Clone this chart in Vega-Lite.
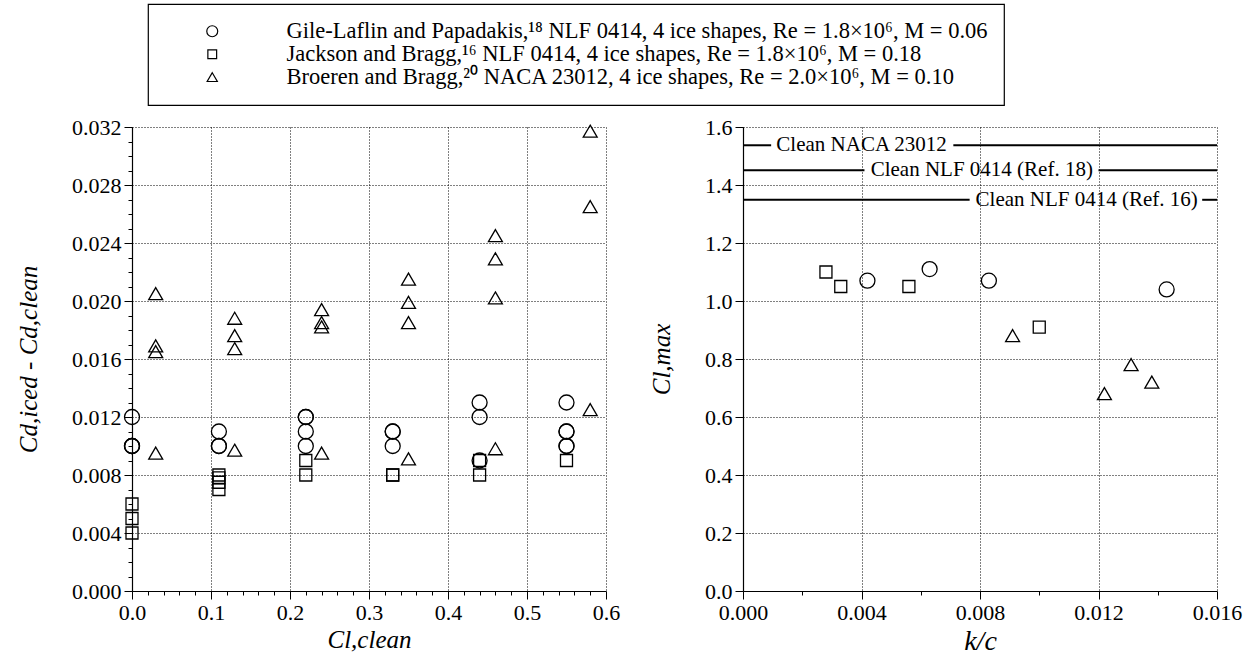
{
  "$schema": "https://vega.github.io/schema/vega-lite/v6.json",
  "padding": {"left": 16, "top": 3, "right": 5, "bottom": 2},
  "config": {
    "font": "Liberation Serif",
    "view": {"stroke": null},
    "concat": {"spacing": 29},
    "axis": {
      "labelFont": "Liberation Serif", "labelFontSize": 22, "labelColor": "black",
      "titleFont": "Liberation Serif", "titleFontStyle": "italic", "titleFontWeight": "normal",
      "titleFontSize": 25, "titleColor": "black",
      "domainColor": "black", "domainWidth": 1.2, "tickColor": "black", "tickWidth": 1,
      "gridColor": "black", "gridDash": [1, 2], "gridWidth": 1,
      "labelPadding": 3, "labelOverlap": false, "labelFlush": false
    },
    "legend": {
      "orient": "none", "legendX": 16, "legendY": -123,
      "strokeColor": "black", "strokeWidth": 1.2, "fillColor": "white",
      "padding": 16, "rowPadding": 0,
      "labelFont": "Liberation Serif", "labelFontSize": 22.5, "labelColor": "black", "labelLimit": 2000,
      "symbolSize": 120, "symbolStrokeWidth": 1.2, "symbolStrokeColor": "black",
      "symbolFillColor": "transparent", "symbolOffset": 37, "labelOffset": 63,
      "title": null
    }
  },
  "datasets": {
    "drag": [
      {"source": "G", "cl": 0, "dcd": 0.012}, {"source": "G", "cl": 0, "dcd": 0.010}, {"source": "G", "cl": 0, "dcd": 0.010}, {"source": "G", "cl": 0, "dcd": 0.010},
      {"source": "G", "cl": 0.11, "dcd": 0.011}, {"source": "G", "cl": 0.11, "dcd": 0.010}, {"source": "G", "cl": 0.11, "dcd": 0.010},
      {"source": "G", "cl": 0.22, "dcd": 0.012}, {"source": "G", "cl": 0.22, "dcd": 0.012}, {"source": "G", "cl": 0.22, "dcd": 0.011}, {"source": "G", "cl": 0.22, "dcd": 0.010},
      {"source": "G", "cl": 0.33, "dcd": 0.011}, {"source": "G", "cl": 0.33, "dcd": 0.011}, {"source": "G", "cl": 0.33, "dcd": 0.010},
      {"source": "G", "cl": 0.44, "dcd": 0.013}, {"source": "G", "cl": 0.44, "dcd": 0.012}, {"source": "G", "cl": 0.44, "dcd": 0.009},
      {"source": "G", "cl": 0.55, "dcd": 0.013}, {"source": "G", "cl": 0.55, "dcd": 0.011}, {"source": "G", "cl": 0.55, "dcd": 0.011}, {"source": "G", "cl": 0.55, "dcd": 0.010}, {"source": "G", "cl": 0.55, "dcd": 0.010},
      {"source": "J", "cl": 0, "dcd": 0.006}, {"source": "J", "cl": 0, "dcd": 0.005}, {"source": "J", "cl": 0, "dcd": 0.004},
      {"source": "J", "cl": 0.11, "dcd": 0.008}, {"source": "J", "cl": 0.11, "dcd": 0.0078}, {"source": "J", "cl": 0.11, "dcd": 0.0075}, {"source": "J", "cl": 0.11, "dcd": 0.007},
      {"source": "J", "cl": 0.22, "dcd": 0.009}, {"source": "J", "cl": 0.22, "dcd": 0.008},
      {"source": "J", "cl": 0.33, "dcd": 0.008}, {"source": "J", "cl": 0.33, "dcd": 0.008},
      {"source": "J", "cl": 0.44, "dcd": 0.009}, {"source": "J", "cl": 0.44, "dcd": 0.008},
      {"source": "J", "cl": 0.55, "dcd": 0.009},
      {"source": "B", "cl": 0.03, "dcd": 0.0205}, {"source": "B", "cl": 0.03, "dcd": 0.0169}, {"source": "B", "cl": 0.03, "dcd": 0.0165}, {"source": "B", "cl": 0.03, "dcd": 0.0095},
      {"source": "B", "cl": 0.13, "dcd": 0.0188}, {"source": "B", "cl": 0.13, "dcd": 0.0176}, {"source": "B", "cl": 0.13, "dcd": 0.0167}, {"source": "B", "cl": 0.13, "dcd": 0.0097},
      {"source": "B", "cl": 0.24, "dcd": 0.0194}, {"source": "B", "cl": 0.24, "dcd": 0.0185}, {"source": "B", "cl": 0.24, "dcd": 0.0182}, {"source": "B", "cl": 0.24, "dcd": 0.0095},
      {"source": "B", "cl": 0.35, "dcd": 0.0215}, {"source": "B", "cl": 0.35, "dcd": 0.0199}, {"source": "B", "cl": 0.35, "dcd": 0.0185}, {"source": "B", "cl": 0.35, "dcd": 0.0091},
      {"source": "B", "cl": 0.46, "dcd": 0.0245}, {"source": "B", "cl": 0.46, "dcd": 0.0229}, {"source": "B", "cl": 0.46, "dcd": 0.0202}, {"source": "B", "cl": 0.46, "dcd": 0.0098},
      {"source": "B", "cl": 0.58, "dcd": 0.0317}, {"source": "B", "cl": 0.58, "dcd": 0.0265}, {"source": "B", "cl": 0.58, "dcd": 0.0125}
    ],
    "clmax": [
      {"source": "G", "kc": 0.0042, "clm": 1.07}, {"source": "G", "kc": 0.0063, "clm": 1.11}, {"source": "G", "kc": 0.0083, "clm": 1.07}, {"source": "G", "kc": 0.0143, "clm": 1.04},
      {"source": "J", "kc": 0.0028, "clm": 1.10}, {"source": "J", "kc": 0.0033, "clm": 1.05}, {"source": "J", "kc": 0.0056, "clm": 1.05}, {"source": "J", "kc": 0.0100, "clm": 0.91},
      {"source": "B", "kc": 0.0091, "clm": 0.88}, {"source": "B", "kc": 0.0122, "clm": 0.68}, {"source": "B", "kc": 0.0131, "clm": 0.78}, {"source": "B", "kc": 0.0138, "clm": 0.72}
    ],
    "cleanLines": [
      {"y": 1.537, "x1": 0, "x2": 0.00095}, {"y": 1.537, "x1": 0.0071, "x2": 0.016},
      {"y": 1.451, "x1": 0, "x2": 0.0041}, {"y": 1.451, "x1": 0.0120, "x2": 0.016},
      {"y": 1.349, "x1": 0, "x2": 0.00765}, {"y": 1.349, "x1": 0.0155, "x2": 0.016}
    ],
    "cleanLabels": [
      {"t": "Clean NACA 23012", "x": 0.0040, "y": 1.537},
      {"t": "Clean NLF 0414 (Ref. 18)", "x": 0.00806, "y": 1.451},
      {"t": "Clean NLF 0414 (Ref. 16)", "x": 0.0116, "y": 1.349}
    ]
  },
  "hconcat": [
    {
      "width": 474, "height": 464,
      "data": {"name": "drag"},
      "mark": {"type": "point", "filled": false, "stroke": "black", "strokeWidth": 1.3, "opacity": 1, "size": 225},
      "encoding": {
        "x": {
          "field": "cl", "type": "quantitative",
          "scale": {"domain": [0, 0.6], "nice": false, "zero": false},
          "axis": {
            "title": "Cl,clean", "titlePadding": 4, "grid": true,
            "values": [0,0.02,0.04,0.06,0.08,0.1,0.12,0.14,0.16,0.18,0.2,0.22,0.24,0.26,0.28,0.3,0.32,0.34,0.36,0.38,0.4,0.42,0.44,0.46,0.48,0.5,0.52,0.54,0.56,0.58,0.6],
            "labelExpr": "abs(datum.value*10-round(datum.value*10))<1e-6 ? format(datum.value,'.1f') : ''",
            "tickSize": {"condition": {"test": "abs(datum.value*10-round(datum.value*10))<1e-6", "value": 8}, "value": 4},
            "gridOpacity": {"condition": {"test": "abs(datum.value*10-round(datum.value*10))<1e-6", "value": 1}, "value": 0}
          }
        },
        "y": {
          "field": "dcd", "type": "quantitative",
          "scale": {"domain": [0, 0.032], "nice": false, "zero": false},
          "axis": {
            "title": "Cd,iced - Cd,clean", "titlePadding": 30, "grid": true,
            "values": [0,0.001,0.002,0.003,0.004,0.005,0.006,0.007,0.008,0.009,0.01,0.011,0.012,0.013,0.014,0.015,0.016,0.017,0.018,0.019,0.02,0.021,0.022,0.023,0.024,0.025,0.026,0.027,0.028,0.029,0.03,0.031,0.032],
            "labelExpr": "abs(datum.value*250-round(datum.value*250))<1e-6 ? format(datum.value,'.3f') : ''",
            "tickSize": {"condition": {"test": "abs(datum.value*250-round(datum.value*250))<1e-6", "value": 8}, "value": 4},
            "gridOpacity": {"condition": {"test": "abs(datum.value*250-round(datum.value*250))<1e-6", "value": 1}, "value": 0}
          }
        },
        "shape": {
          "field": "source", "type": "nominal",
          "scale": {"domain": ["G", "J", "B"], "range": ["circle", "M-0.8,-0.8H0.8V0.8H-0.8Z", "M0,-0.82L0.93,0.78L-0.93,0.78Z"]},
          "legend": {
            "labelExpr": "datum.label == 'G' ? 'Gile-Laflin and Papadakis,¹⁸ NLF 0414, 4 ice shapes, Re = 1.8×10⁶, M = 0.06' : datum.label == 'J' ? 'Jackson and Bragg,¹⁶ NLF 0414, 4 ice shapes, Re = 1.8×10⁶, M = 0.18' : 'Broeren and Bragg,²⁰ NACA 23012, 4 ice shapes, Re = 2.0×10⁶, M = 0.10'"
          }
        }
      }
    },
    {
      "width": 474, "height": 464,
      "layer": [
        {
          "data": {"name": "clmax"},
          "mark": {"type": "point", "filled": false, "stroke": "black", "strokeWidth": 1.3, "opacity": 1, "size": 225},
          "encoding": {
            "x": {
              "field": "kc", "type": "quantitative",
              "scale": {"domain": [0, 0.016], "nice": false, "zero": false},
              "axis": {
                "title": "k/c", "titlePadding": 4, "titleFontSize": 28, "grid": true,
                "values": [0,0.001,0.002,0.003,0.004,0.005,0.006,0.007,0.008,0.009,0.01,0.011,0.012,0.013,0.014,0.015,0.016],
                "labelExpr": "abs(datum.value*250-round(datum.value*250))<1e-6 ? format(datum.value,'.3f') : ''",
                "tickSize": {"condition": {"test": "abs(datum.value*250-round(datum.value*250))<1e-6", "value": 8}, "value": 4},
                "gridOpacity": {"condition": {"test": "abs(datum.value*250-round(datum.value*250))<1e-6", "value": 1}, "value": 0}
              }
            },
            "y": {
              "field": "clm", "type": "quantitative",
              "scale": {"domain": [0, 1.6], "nice": false, "zero": false},
              "axis": {
                "title": "Cl,max", "titlePadding": 30, "grid": true,
                "values": [0,0.05,0.1,0.15,0.2,0.25,0.3,0.35,0.4,0.45,0.5,0.55,0.6,0.65,0.7,0.75,0.8,0.85,0.9,0.95,1,1.05,1.1,1.15,1.2,1.25,1.3,1.35,1.4,1.45,1.5,1.55,1.6],
                "labelExpr": "abs(datum.value*5-round(datum.value*5))<1e-6 ? format(datum.value,'.1f') : ''",
                "tickSize": {"condition": {"test": "abs(datum.value*5-round(datum.value*5))<1e-6", "value": 8}, "value": 4},
                "gridOpacity": {"condition": {"test": "abs(datum.value*5-round(datum.value*5))<1e-6", "value": 1}, "value": 0}
              }
            },
            "shape": {"field": "source", "type": "nominal"}
          }
        },
        {
          "data": {"name": "cleanLines"},
          "mark": {"type": "rule", "color": "black", "strokeWidth": 2},
          "encoding": {
            "x": {"field": "x1", "type": "quantitative"},
            "x2": {"field": "x2"},
            "y": {"field": "y", "type": "quantitative"}
          }
        },
        {
          "data": {"name": "cleanLabels"},
          "mark": {"type": "text", "font": "Liberation Serif", "fontSize": 21, "color": "black", "align": "center", "baseline": "middle"},
          "encoding": {
            "x": {"field": "x", "type": "quantitative"},
            "y": {"field": "y", "type": "quantitative"},
            "text": {"field": "t"}
          }
        }
      ]
    }
  ]
}
